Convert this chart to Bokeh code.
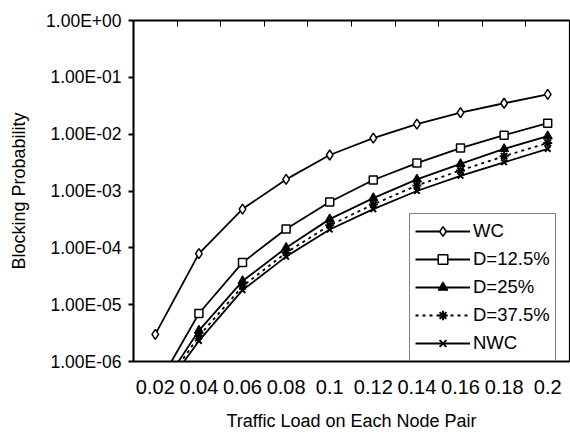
from bokeh.plotting import figure
from bokeh.models import FixedTicker, LinearAxis, Range1d, Legend, LegendItem
from bokeh.embed import file_html
from bokeh.resources import INLINE

# ---- data ----
loads = [0.02, 0.04, 0.06, 0.08, 0.1, 0.12, 0.14, 0.16, 0.18, 0.2]
x_labels = ["0.02", "0.04", "0.06", "0.08", "0.1", "0.12", "0.14", "0.16", "0.18", "0.2"]
wc = [3.0e-6, 7.9e-5, 4.8e-4, 1.6e-3, 4.3e-3, 8.5e-3, 1.5e-2, 2.4e-2, 3.5e-2, 5.0e-2]
d125 = [3.2e-7, 7.0e-6, 5.5e-5, 2.15e-4, 6.4e-4, 1.56e-3, 3.1e-3, 5.7e-3, 9.6e-3, 1.56e-2]
d25 = [2.4e-7, 3.5e-6, 2.6e-5, 1.0e-4, 3.2e-4, 7.5e-4, 1.6e-3, 3.0e-3, 5.5e-3, 9.2e-3]
d375 = [2.2e-7, 2.8e-6, 2.1e-5, 8.2e-5, 2.5e-4, 5.8e-4, 1.25e-3, 2.3e-3, 4.1e-3, 7.0e-3]
nwc = [2.0e-7, 2.3e-6, 1.8e-5, 7.0e-5, 2.1e-4, 4.8e-4, 1.0e-3, 1.85e-3, 3.2e-3, 5.5e-3]
y_ticks = [1e-6, 1e-5, 1e-4, 1e-3, 1e-2, 1e-1, 1.0]
y_labels = ["1.00E-06", "1.00E-05", "1.00E-04", "1.00E-03", "1.00E-02", "1.00E-01", "1.00E+00"]
series_names = ["WC", "D=12.5%", "D=25%", "D=37.5%", "NWC"]

FONT = "Liberation Sans"

p = figure(width=570, height=438, output_backend="svg", toolbar_location=None,
           y_axis_type="log", x_range=Range1d(0.01, 0.21), y_range=Range1d(1e-6, 1.0),
           min_border_left=133, min_border_right=1, min_border_top=20, min_border_bottom=77,
           x_axis_location=None)
p.grid.visible = False
p.outline_line_color = "black"
p.outline_line_width = 1.2
p.background_fill_color = "white"
p.border_fill_color = "white"

# bottom axis (labels only)
xb = LinearAxis(ticker=FixedTicker(ticks=loads),
                major_label_overrides={v: s for v, s in zip(loads, x_labels)})
xb.major_tick_out = 0
xb.major_tick_in = 0
xb.minor_tick_out = 0
xb.minor_tick_in = 0
xb.axis_line_width = 2
xb.axis_line_color = "black"
xb.major_label_standoff = 18
xb.major_label_text_font = FONT
xb.major_label_text_font_size = "20px"
xb.major_label_text_color = "black"
xb.axis_label = "Traffic Load on Each Node Pair"
xb.axis_label_text_font = FONT
xb.axis_label_text_font_size = "18px"
xb.axis_label_text_font_style = "normal"
xb.axis_label_text_color = "black"
xb.axis_label_standoff = 14
p.add_layout(xb, "below")

# top axis (category boundary ticks, no labels)
bounds = [(a + b) / 2 for a, b in zip(loads[:-1], loads[1:])]
xt = LinearAxis(ticker=FixedTicker(ticks=bounds),
                major_label_overrides={b: "" for b in bounds})
xt.major_tick_in = 6
xt.major_tick_out = 0
xt.minor_tick_in = 0
xt.minor_tick_out = 0
xt.major_label_standoff = 0
xt.axis_line_width = 2
p.add_layout(xt, "above")

# y axis
ya = p.yaxis[0]
ya.ticker = FixedTicker(ticks=y_ticks)
ya.major_label_overrides = {v: s for v, s in zip(y_ticks, y_labels)}
ya.major_tick_out = 5
ya.major_tick_in = 0
ya.minor_tick_out = 0
ya.minor_tick_in = 0
ya.axis_line_width = 2
ya.major_tick_line_width = 2
ya.major_label_standoff = 7
ya.major_label_text_font = FONT
ya.major_label_text_font_size = "17.5px"
ya.major_label_text_color = "black"
ya.axis_label = "Blocking Probability"
ya.axis_label_text_font = FONT
ya.axis_label_text_font_size = "18px"
ya.axis_label_text_font_style = "normal"
ya.axis_label_text_color = "black"
ya.axis_label_standoff = 14

items = []
# WC
l = p.line(loads, wc, line_color="black", line_width=1.8)
m = p.scatter(loads, wc, marker="diamond", size=10, fill_color="white", line_color="black", line_width=1.5)
items.append(LegendItem(label=series_names[0], renderers=[l, m]))
# D=12.5%
l = p.line(loads, d125, line_color="black", line_width=1.8)
m = p.scatter(loads, d125, marker="square", size=8, fill_color="white", line_color="black", line_width=1.5)
items.append(LegendItem(label=series_names[1], renderers=[l, m]))
# D=25%
l = p.line(loads, d25, line_color="black", line_width=1.8)
m = p.scatter(loads, d25, marker="triangle", size=9, fill_color="black", line_color="black", line_width=1.2)
items.append(LegendItem(label=series_names[2], renderers=[l, m]))
# D=37.5%
l = p.line(loads, d375, line_color="black", line_width=1.8, line_dash="3 4")
m = p.scatter(loads, d375, marker="asterisk", size=9, line_color="black", line_width=2)
items.append(LegendItem(label=series_names[3], renderers=[l, m]))
# NWC
l = p.line(loads, nwc, line_color="black", line_width=1.8)
m = p.scatter(loads, nwc, marker="x", size=8, line_color="black", line_width=2)
items.append(LegendItem(label=series_names[4], renderers=[l, m]))

legend = Legend(items=items, location=(276, 0))
legend.border_line_color = "black"
legend.border_line_width = 1.5
legend.background_fill_color = "white"
legend.background_fill_alpha = 1
legend.padding = 5
legend.spacing = 4
legend.margin = 0
legend.glyph_width = 55
legend.glyph_height = 24
legend.label_height = 24
legend.label_standoff = 3
legend.label_text_font = FONT
legend.label_text_font_size = "18.5px"
legend.label_text_color = "black"
p.add_layout(legend, "center")

open("out.html", "w").write(file_html(p, INLINE))
